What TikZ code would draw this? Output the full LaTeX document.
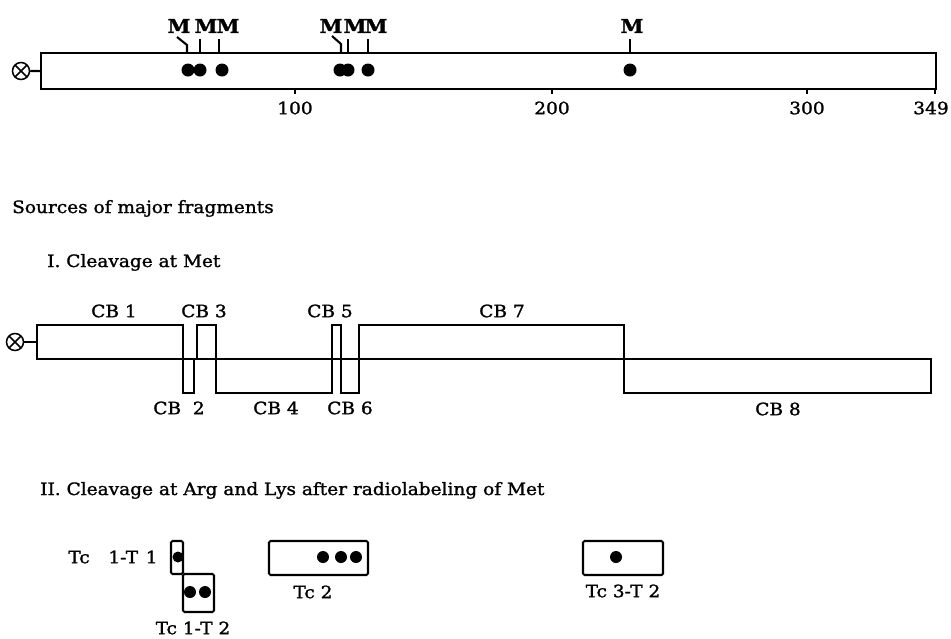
\documentclass[tikz,border=0pt]{standalone}
\usepackage{fontspec}
\setmainfont[FakeStretch=1.09,FakeBold=1.4]{DejaVu Serif}
\begin{document}
\begin{tikzpicture}[x=1pt,y=-1pt,
  bar/.style={line width=2.1pt},
  frag/.style={line width=1.9pt},
  tcbox/.style={line width=2.1pt, rounded corners=1.5pt},
  lab/.style={font=\fontsize{17}{20}\selectfont, inner sep=0pt},
  numlab/.style={font=\fontsize{17}{20}\selectfont, inner sep=0pt},
  mlab/.style={font=\bfseries\fontsize{19}{22}\selectfont, inner sep=0pt},
  otimes/.style={circle, draw, line width=1.5pt, minimum size=17pt, inner sep=0pt,
    path picture={\draw[line width=1.5pt] (path picture bounding box.north west) -- (path picture bounding box.south east)
      (path picture bounding box.north east) -- (path picture bounding box.south west);}},
  ]
\useasboundingbox (0,0) rectangle (951,638);

% ---------- top map ----------
\node[otimes] (oa) at (21,71) {};
\node[draw, bar, rectangle, anchor=north west, minimum width=895pt, minimum height=36pt, inner sep=0pt] (map) at (40,52) {};
\draw[bar] (oa.east) -- (map.west);

% ticks below
\foreach \x/\t/\p in {295/100/295,552/200/552,807/300/807,935/349/931}{
  \draw[bar] (\x,88) -- (\x,94);
  \node[numlab] (num\t) at (\p,108) {\t};
}

% dots
\foreach \x in {188,200,222,340,348,368,630}{
  \fill (\x,70) circle (6.5pt);
}

% M labels
\node[mlab] (m1) at (179,26) {M};
\node[mlab] (m2) at (206,26) {M};
\node[mlab] (m3) at (228,26) {M};
\node[mlab] (m4) at (331,26) {M};
\node[mlab] (m5) at (355,26) {M};
\node[mlab] (m6) at (376,26) {M};
\node[mlab] (m7) at (632,26) {M};
\draw[bar] (177,37) -- (187,45) -- (187,52);
\draw[bar] (200,39) -- (200,52);
\draw[bar] (219,39) -- (219,52);
\draw[bar] (332,36) -- (341,44) -- (341,52);
\draw[bar] (348,39) -- (348,52);
\draw[bar] (368,39) -- (368,52);
\draw[bar] (630,39) -- (630,52);

% ---------- headings ----------
\node[lab, anchor=base west] (h0) at (12,213) {Sources of major fragments};
\node[lab, anchor=base west] (h1) at (47,267) {I. Cleavage at Met};
\node[lab, anchor=base west] (h2) at (40,495) {II. Cleavage at Arg and Lys after radiolabeling of Met};

% ---------- CB fragments ----------
\node[otimes] (ob) at (15,342) {};
\coordinate (cbstart) at (37,342);
\draw[frag] (ob.east) -- (cbstart);
\draw[frag] (37,325) rectangle (183,359);
\draw[frag] (183,359) rectangle (194,393);
\draw[frag] (197,325) rectangle (216,359);
\draw[frag] (216,359) rectangle (332,393);
\draw[frag] (332,325) rectangle (341,359);
\draw[frag] (341,359) rectangle (359,393);
\draw[frag] (359,325) rectangle (624,359);
\draw[frag] (624,359) rectangle (931,393);
\draw[frag] (37,359) -- (931,359);

\node[lab] (cb1) at (114,311) {CB 1};
\node[lab] (cb3) at (204,311) {CB 3};
\node[lab] (cb5) at (330,311) {CB 5};
\node[lab] (cb7) at (502,311) {CB 7};
\node[lab] (cb2) at (179,408) {CB\ \ 2};
\node[lab] (cb4) at (276,408) {CB 4};
\node[lab] (cb6) at (350,408) {CB 6};
\node[lab] (cb8) at (778,409) {CB 8};

% ---------- Tc fragments ----------
\draw[tcbox] (171,541) rectangle (183,574);
\fill (178,557) circle (5.5pt);
\draw[tcbox] (183,574) rectangle (214,612);
\fill (190,592) circle (6pt);
\fill (205,592) circle (6pt);
\draw[tcbox] (269,541) rectangle (368,575);
\foreach \x in {323,341,356}{\fill (\x,557) circle (6pt);}
\draw[tcbox] (583,541) rectangle (663,575);
\fill (616,557) circle (6pt);

\node[lab] (t11) at (113,557) {Tc\hspace{1.1em}1-T\hspace{0.45em}1};
\node[lab] (t12) at (193,628) {Tc 1-T 2};
\node[lab] (t2) at (313,592) {Tc 2};
\node[lab] (t32) at (623,591) {Tc 3-T 2};
\end{tikzpicture}
\end{document}
